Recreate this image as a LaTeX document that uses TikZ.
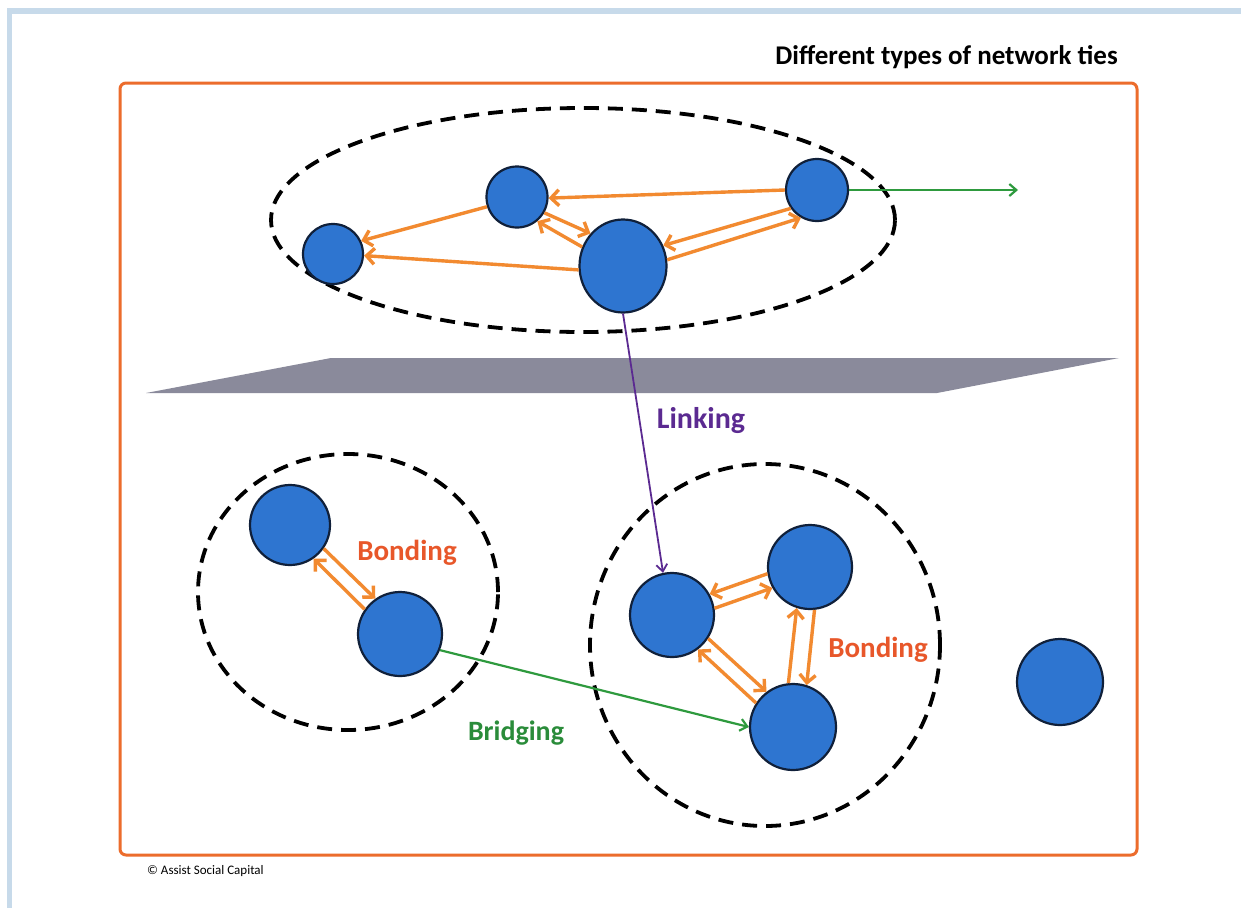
\documentclass[tikz,border=0pt]{standalone}
\usepackage{fontspec}
\setmainfont{Carlito}
\usetikzlibrary{arrows.meta,shapes.geometric}
\definecolor{paneblue}{HTML}{C7DAEA}
\definecolor{frameorange}{HTML}{EC6C2C}
\definecolor{tieorange}{HTML}{F28A30}
\definecolor{bondred}{HTML}{E8572A}
\definecolor{bridgegreen}{HTML}{2E9A3E}
\definecolor{bridgetext}{HTML}{2A8C3A}
\definecolor{linkpurple}{HTML}{5B2A91}
\definecolor{nodeblue}{HTML}{2E75D0}
\definecolor{nodeline}{HTML}{10203A}
\definecolor{planegray}{RGB}{138,138,155}
\tikzset{
  person/.style={circle, draw=nodeline, fill=nodeblue, line width=2.2pt, inner sep=0pt, minimum size=#1},
  person/.default=60pt,
  group/.style={ellipse, draw=black, line width=3.8pt, dash pattern=on 15pt off 9pt, inner sep=0pt},
  tie/.style={draw=tieorange, line width=3.4pt, -{Straight Barb[length=8pt,width=16pt]}},
  bridge/.style={draw=bridgegreen, line width=2.2pt, -{Straight Barb[length=7pt,width=12pt]}},
  linkarrow/.style={draw=linkpurple, line width=1.8pt, -{Straight Barb[length=7pt,width=11pt]}},
  lbl/.style={font=\bfseries\fontsize{29}{33}\selectfont, inner sep=0pt},
}
\begin{document}
\begin{tikzpicture}[x=1pt,y=-1pt]
\useasboundingbox (0,0) rectangle (1241,908);
\fill[white] (0,0) rectangle (1241,908);
% light blue pane edges
\fill[paneblue] (7,8) rectangle (1241,14);
\fill[paneblue] (7,8) rectangle (12,908);
% title
\node[font=\bfseries\fontsize{27}{30}\selectfont, anchor=east, inner sep=0pt] (title) at (1118,57) {Different types of network ties};
% orange frame
\draw[frameorange, line width=3pt, rounded corners=6pt] (120,83) rectangle (1137,855);
\node[font=\fontsize{13}{15}\selectfont, anchor=west, inner sep=0pt] (copy) at (147,871) {© Assist Social Capital};
% groups
\node[group, minimum width=624pt, minimum height=224pt] (top) at (583,220) {};
\node[group, minimum width=300pt, minimum height=276pt] (left) at (348,592) {};
\node[group, minimum width=350pt, minimum height=362pt] (right) at (765,645) {};
% plane
\fill[planegray] (146,393) -- (331,358) -- (1119,358) -- (937,393) -- cycle;
% people
\node[person=60pt] (A) at (333,254) {};
\node[person=61pt] (B) at (517,197) {};
\node[ellipse, draw=nodeline, fill=nodeblue, line width=2.2pt, inner sep=0pt, minimum width=87pt, minimum height=93pt] (C) at (623,266) {};
\node[person=62pt] (D) at (817,190) {};
\node[person=80pt] (F) at (290,525) {};
\node[person=84pt] (G) at (400,634) {};
\node[person=84pt] (E) at (672,615) {};
\node[person=84pt] (I) at (810,567) {};
\node[person=86pt] (H) at (793,727) {};
\node[person=86pt] (J) at (1060,682) {};
\coordinate (out) at (1018,190);
% top ties
\draw[tie] (B.198) -- (A.25);
\draw[tie] (C.185) -- (A.-3);
\draw[tie] (D.180) -- (B.-2);
\draw[tie] (D.215) -- (C.27);
\draw[tie] (C.8) -- (D.240);
\draw[tie] (B.-30) -- (C.135);
\draw[tie] (C.155) -- (B.-50);
% left bonding
\draw[tie] (F.-35) -- (G.125);
\draw[tie] (G.145) -- (F.-55);
% right bonding
\draw[tie] (I.189) -- (E.29);
\draw[tie] (E.9) -- (I.209);
\draw[tie] (E.-33) -- (H.127);
\draw[tie] (H.147) -- (E.-53);
\draw[tie] (H.96) -- (I.-108);
\draw[tie] (I.-84) -- (H.72);
% bridging and linking
\draw[bridge] (D.east) -- (out);
\draw[bridge] (G.-22) -- (H.180);
\draw[linkarrow] (C.-90) -- (E.102);
% labels
\node[lbl, font=\bfseries\fontsize{30}{34}\selectfont, text=linkpurple] (linking) at (701,421) {Linking};
\node[lbl, text=bondred] (bondL) at (407,553) {Bonding};
\node[lbl, text=bondred] (bondR) at (878,650) {Bonding};
\node[lbl, font=\bfseries\fontsize{28}{32}\selectfont, text=bridgetext] (bridging) at (516,733) {Bridging};
\end{tikzpicture}
\end{document}
